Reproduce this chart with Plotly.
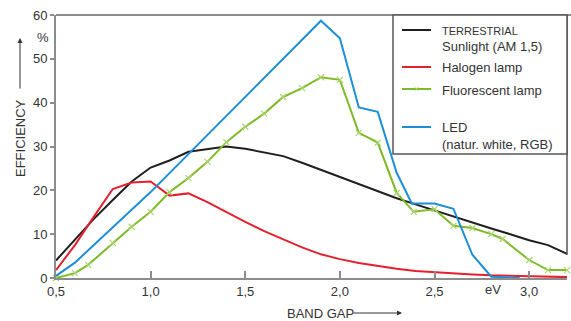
import plotly.graph_objects as go

# ---- data ----
sun_x = [0.5,0.6,0.7,0.8,0.9,1.0,1.1,1.2,1.3,1.4,1.5,1.6,1.7,1.8,1.9,2.0,2.1,2.2,2.3,2.4,2.5,2.6,2.7,2.8,2.9,3.0,3.1,3.2]
sun_y = [4.0,8.8,13.5,17.8,22.0,25.2,26.8,28.8,29.4,30.0,29.5,28.7,27.8,26.3,24.7,23.0,21.4,19.8,18.2,16.8,15.4,14.0,12.6,11.3,10.0,8.6,7.5,5.5]

halogen_x = [0.5,0.6,0.7,0.8,0.9,1.0,1.1,1.2,1.3,1.4,1.5,1.6,1.7,1.8,1.9,2.0,2.1,2.2,2.3,2.4,2.5,2.6,2.7,2.8,2.9,3.0,3.1,3.2]
halogen_y = [1.8,7.5,14.0,20.3,21.8,22.0,18.8,19.3,17.3,15.0,12.8,10.7,8.8,7.0,5.4,4.3,3.4,2.7,2.1,1.6,1.3,1.0,0.8,0.6,0.5,0.4,0.3,0.2]

fluor_x = [0.5,0.6,0.67,0.8,0.9,1.0,1.1,1.2,1.3,1.4,1.5,1.6,1.7,1.8,1.9,2.0,2.1,2.2,2.3,2.39,2.5,2.6,2.7,2.8,2.86,3.0,3.1,3.2]
fluor_y = [0.0,1.1,3.0,8.0,11.7,15.1,19.6,22.8,26.5,31.0,34.5,37.5,41.3,43.3,45.8,45.2,33.1,30.9,19.4,15.1,15.7,11.9,11.4,10.0,8.9,4.1,1.8,1.8]

led_x = [0.5,0.6,1.0,1.9,2.0,2.1,2.2,2.3,2.38,2.5,2.6,2.7,2.8,2.95]
led_y = [0.5,3.5,19.6,58.7,54.7,38.9,37.9,24.0,17.0,17.0,15.8,5.3,0.3,0.0]

x_ticks = [0.5, 1.0, 1.5, 2.0, 2.5, 3.0]
x_labels = ["0,5", "1,0", "1,5", "2,0", "2,5", "3,0"]
y_ticks = [0, 10, 20, 30, 40, 50, 60]
y_labels = ["0", "10", "20", "30", "40", "50", "60"]

C_SUN = "#1f1f1f"
C_HAL = "#e5202e"
C_FLU = "#7fba27"
C_LED = "#1d8fd6"
TXT = "#333333"
AX = "#8c8c8c"
FONT = "Liberation Sans, Arial, sans-serif"

W, H = 571, 321
L, R, T, B = 56, 4, 15, 43
PW, PH = W - L - R, H - T - B

def px(xp):
    return (xp - L) / PW

def py(yp):
    return (H - B - yp) / PH

fig = go.Figure()
fig.add_trace(go.Scatter(x=sun_x, y=sun_y, mode="lines", line=dict(color=C_SUN, width=2), cliponaxis=False))
fig.add_trace(go.Scatter(x=halogen_x, y=halogen_y, mode="lines", line=dict(color=C_HAL, width=2), cliponaxis=False))
fig.add_trace(go.Scatter(x=fluor_x, y=fluor_y, mode="lines+markers", line=dict(color=C_FLU, width=2),
                         marker=dict(symbol="x-thin", size=6, line=dict(color="#a9d46e", width=1.2)), cliponaxis=False))
fig.add_trace(go.Scatter(x=led_x, y=led_y, mode="lines", line=dict(color=C_LED, width=2), cliponaxis=False))

shapes = []
# frame: top line and right line
shapes.append(dict(type="line", xref="paper", yref="paper", x0=0, x1=(W - L) / PW, y0=1, y1=1,
                   line=dict(color=AX, width=2)))
shapes.append(dict(type="line", xref="paper", yref="paper", x0=1, x1=1, y0=1, y1=py(255),
                   line=dict(color="#555555", width=1.5)))
# legend box
shapes.append(dict(type="rect", xref="paper", yref="paper", x0=px(393), x1=px(567), y0=py(154), y1=py(15),
                   line=dict(color="#555555", width=1.5), fillcolor="white", layer="above"))
leg = [(C_SUN, 30), (C_HAL, 67), (C_FLU, 89), (C_LED, 127)]
for c, yy in leg:
    shapes.append(dict(type="line", xref="paper", yref="paper", x0=px(402), x1=px(431), y0=py(yy), y1=py(yy),
                       line=dict(color=c, width=2), layer="above"))

ann = []
def text(xp, yp, s, size=12, xanchor="left", color=TXT):
    ann.append(dict(x=px(xp), y=py(yp), xref="paper", yref="paper", text=s, showarrow=False,
                    xanchor=xanchor, yanchor="middle", font=dict(family=FONT, size=size, color=color)))

text(440, 31, "TERRESTRIAL", size=11)
text(440, 46, "Sunlight (AM 1,5)", size=13)
text(440, 68, "Halogen lamp", size=13)
text(440, 90, "Fluorescent lamp", size=13)
text(440, 127, "LED", size=13)
text(440, 144, "(natur. white, RGB)", size=13)
# marker on legend line for fluorescent
ann.append(dict(x=px(416.5), y=py(89), xref="paper", yref="paper", text="×", showarrow=False,
                xanchor="center", yanchor="middle", font=dict(family=FONT, size=9, color="#a9d46e")))

text(51, 37, "%", size=13, xanchor="right")
text(493, 289, "eV", size=13, xanchor="center")

# axis titles
ann.append(dict(x=px(20), y=py(138), xref="paper", yref="paper", text="EFFICIENCY", showarrow=False,
                textangle=-90, xanchor="center", yanchor="middle", font=dict(family=FONT, size=13, color=TXT)))
ann.append(dict(x=px(20), y=py(38), xref="paper", yref="paper", text="", showarrow=True,
                ax=0, ay=52, axref="pixel", ayref="pixel", arrowhead=2, arrowsize=1, arrowwidth=1,
                arrowcolor=TXT))
ann.append(dict(x=px(320), y=py(313), xref="paper", yref="paper", text="BAND GAP", showarrow=False,
                xanchor="center", yanchor="middle", font=dict(family=FONT, size=13, color=TXT)))
ann.append(dict(x=px(402), y=py(313), xref="paper", yref="paper", text="", showarrow=True,
                ax=-50, ay=0, axref="pixel", ayref="pixel", arrowhead=2, arrowsize=1, arrowwidth=1,
                arrowcolor=TXT))

fig.update_layout(
    width=W, height=H,
    margin=dict(l=L, r=R, t=T, b=B),
    paper_bgcolor="white", plot_bgcolor="white",
    showlegend=False, hovermode=False,
    shapes=shapes, annotations=ann,
    font=dict(family=FONT, size=13, color=TXT),
)
fig.update_xaxes(range=[0.5, 3.2], tickvals=x_ticks, ticktext=x_labels, ticks="inside", ticklen=7,
                 tickcolor=AX, tickwidth=1.5, showline=True, linecolor=AX, linewidth=2, showgrid=False,
                 zeroline=False, tickfont=dict(family=FONT, size=13, color=TXT))
fig.update_yaxes(range=[0, 60], tickvals=y_ticks, ticktext=y_labels, ticks="outside", ticklen=4,
                 tickcolor=AX, tickwidth=1.5, showline=True, linecolor=AX, linewidth=2, showgrid=False,
                 zeroline=False, tickfont=dict(family=FONT, size=13, color=TXT))

fig.write_html("out.html", config={"displayModeBar": False},
               post_script="document.body.style.margin='0';document.body.style.overflow='hidden';")
